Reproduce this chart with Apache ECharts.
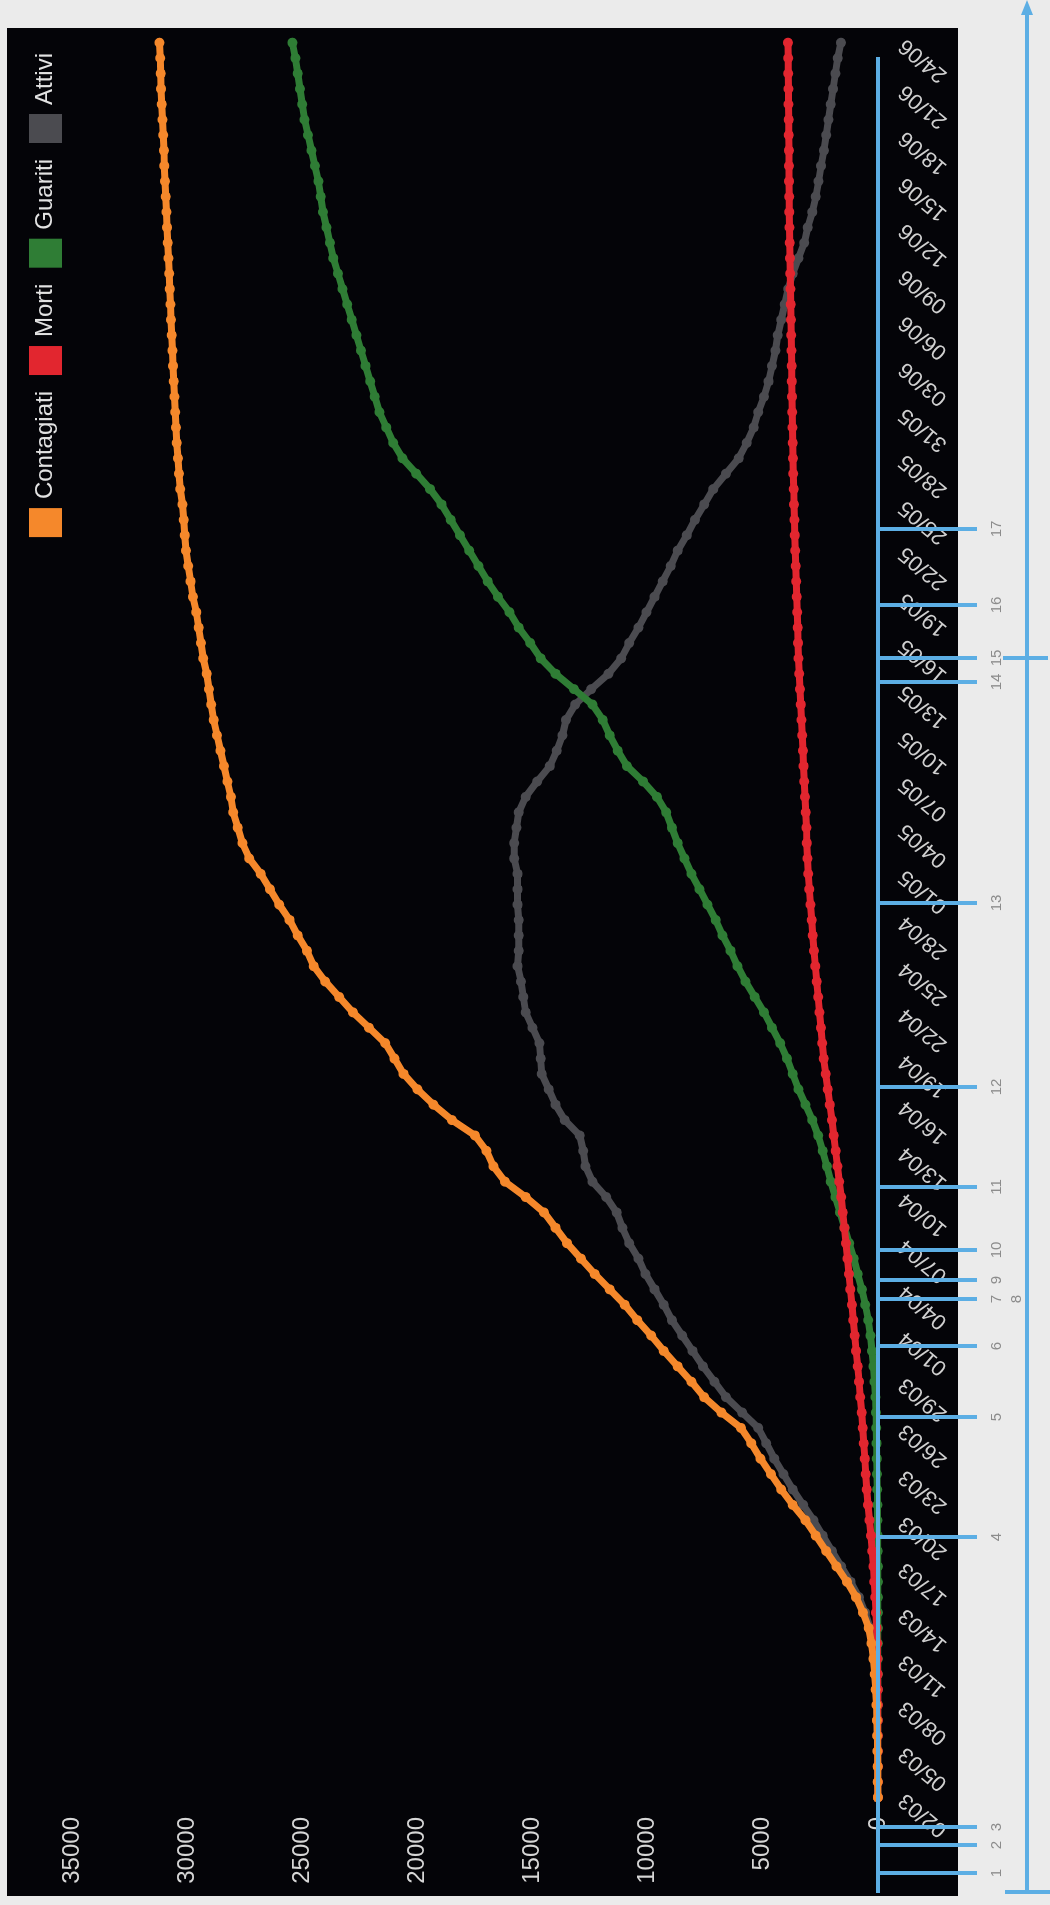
<!DOCTYPE html>
<html>
<head>
<meta charset="utf-8">
<script src="https://cdn.jsdelivr.net/npm/echarts@6/dist/echarts.min.js"></script>
<style>
html,body{margin:0;padding:0;background:#ebebeb;width:1050px;height:1905px;overflow:hidden;}
#chart{position:absolute;left:0;top:0;width:1905px;height:1050px;transform-origin:0 0;transform:translate(0,1905px) rotate(-90deg);}
</style>
</head>
<body>
<div id="chart"></div>
<script>
// ---- data ----
const monthSpans = [['03', 2, 31], ['04', 1, 30], ['05', 1, 31], ['06', 1, 24]];
const dates = [];
monthSpans.forEach(function (m) {
  for (let d = m[1]; d <= m[2]; d++) dates.push((d < 10 ? '0' : '') + d + '/' + m[0]);
});

const seriesNames = ['Contagiati', 'Morti', 'Guariti', 'Attivi'];

const contagiati = [
  5, 10, 15, 20, 30, 45, 60, 100, 140, 200,
  280, 400, 650, 950, 1350, 1800, 2250, 2700, 3150, 3700,
  4200, 4650, 5100, 5500, 5950, 6800, 7550, 8100, 8700, 9300,
  9850, 10450, 11000, 11650, 12300, 12900, 13500, 14000, 14500, 15300,
  16200, 16700, 17000, 17500, 18500, 19300, 20000, 20600, 21000, 21400,
  22100, 22800, 23400, 24000, 24500, 24800, 25200, 25550, 26000, 26400,
  26800, 27300, 27600, 27800, 28000, 28100, 28250, 28400, 28550, 28700,
  28850, 28950, 29050, 29150, 29300, 29400, 29500, 29600, 29750, 29850,
  29950, 30050, 30100, 30150, 30200, 30300, 30350, 30400, 30450, 30480,
  30520, 30550, 30580, 30610, 30640, 30670, 30700, 30720, 30750, 30780,
  30810, 30840, 30870, 30900, 30930, 30960, 30990, 31010, 31040, 31070,
  31100, 31130, 31150, 31170, 31200
];

const morti = [
  0, 0, 0, 0, 0, 0, 2, 5, 10, 20,
  35, 60, 90, 120, 160, 200, 250, 300, 370, 430,
  490, 530, 570, 620, 660, 710, 770, 820, 880, 950,
  1010, 1070, 1130, 1200, 1260, 1320, 1390, 1460, 1530, 1600,
  1680, 1760, 1840, 1920, 2000, 2090, 2180, 2270, 2360, 2420,
  2480, 2540, 2600, 2660, 2720, 2780, 2830, 2880, 2930, 2980,
  3030, 3060, 3090, 3110, 3140, 3170, 3200, 3230, 3260, 3290,
  3320, 3350, 3390, 3420, 3450, 3470, 3490, 3510, 3530, 3550,
  3570, 3590, 3610, 3630, 3650, 3660, 3680, 3690, 3700, 3710,
  3720, 3730, 3740, 3750, 3760, 3770, 3780, 3790, 3800, 3810,
  3820, 3830, 3840, 3850, 3855, 3860, 3865, 3870, 3875, 3880,
  3885, 3890, 3895, 3900, 3910
];

const guariti = [
  0, 0, 0, 0, 0, 0, 0, 0, 0, 0,
  0, 0, 0, 0, 0, 5, 10, 15, 20, 25,
  30, 40, 50, 60, 75, 90, 110, 150, 200, 260,
  330, 420, 550, 700, 880, 1050, 1250, 1450, 1650, 1850,
  2050, 2220, 2400, 2600, 2850, 3150, 3450, 3700, 3950, 4250,
  4600, 4950, 5350, 5750, 6100, 6400, 6750, 7050, 7400, 7750,
  8100, 8400, 8700, 8950, 9200, 9600, 10200, 10900, 11300, 11650,
  11950, 12400, 13200, 14000, 14650, 15100, 15600, 16000, 16500, 16950,
  17350, 17750, 18150, 18550, 18950, 19450, 20050, 20650, 21050, 21350,
  21650, 21850, 22050, 22250, 22450, 22650, 22850, 23050, 23250, 23450,
  23650, 23800, 23950, 24100, 24200, 24300, 24450, 24600, 24750, 24900,
  25000, 25100, 25200, 25300, 25430
];

const attivi = [
  5, 10, 15, 20, 30, 45, 58, 95, 130, 180,
  245, 340, 560, 830, 1190, 1600, 2000, 2400, 2800, 3250,
  3700, 4100, 4500, 4850, 5200, 5900, 6600, 7100, 7600, 8050,
  8500, 8950, 9300, 9700, 10100, 10400, 10800, 11100, 11350, 11800,
  12400, 12700, 12800, 12950, 13600, 14000, 14300, 14600, 14650, 14700,
  15000, 15300, 15400, 15500, 15650, 15600, 15600, 15600, 15650, 15650,
  15650, 15800, 15800, 15700, 15600, 15300, 14800, 14250, 13950, 13700,
  13550, 13150, 12450, 11700, 11150, 10800, 10400, 10050, 9700, 9350,
  9000, 8700, 8300, 7950, 7550, 7150, 6600, 6050, 5700, 5400,
  5200, 4950, 4750, 4600, 4450, 4350, 4200, 4050, 3900, 3700,
  3450, 3200, 3050, 2850, 2700, 2580, 2470, 2350, 2250, 2150,
  2050, 1950, 1850, 1750, 1610
];

const valueMin = 0, valueMax = 35000, valueStep = 5000;

// annotation overlay (blue markers with their numbers)
const markerLabels = ['1', '2', '3', '4', '5', '6', '7', '9', '10', '11', '12', '13', '14', '15', '16', '17'];
const markerX = [32, 60, 78, 368, 488, 559, 606, 625, 655, 718, 818, 1002, 1223, 1247, 1300, 1376];

// ---- styling ----
const colors = ['#f5882b', '#e2262f', '#2f7d35', '#4b4b50'];
const seriesZ = [5, 4, 3, 2];
const blue = '#5caee4';
const FONT = '"Liberation Sans", Arial, sans-serif';

const chart = echarts.init(document.getElementById('chart'), null, { renderer: 'canvas' });

const graphics = [];
graphics.push({ type: 'rect', z: -10, silent: true, shape: { x: 9, y: 7, width: 1868, height: 951 }, style: { fill: '#040408' } });
graphics.push({ type: 'line', z: 100, silent: true, shape: { x1: 12, y1: 878, x2: 1848, y2: 878 }, style: { stroke: blue, lineWidth: 4 } });
markerX.forEach(function (x, i) {
  graphics.push({ type: 'line', z: 100, silent: true, shape: { x1: x, y1: 878, x2: x, y2: 977 }, style: { stroke: blue, lineWidth: 4 } });
  graphics.push({ type: 'text', z: 100, silent: true, x: x, y: 997,
    style: { text: markerLabels[i], fill: '#8c8c8c', font: '15px ' + FONT, textAlign: 'center', textVerticalAlign: 'middle', align: 'center', verticalAlign: 'middle' } });
});
graphics.push({ type: 'text', z: 100, silent: true, x: 606, y: 1017,
  style: { text: '8', fill: '#8c8c8c', font: '15px ' + FONT, textAlign: 'center', textVerticalAlign: 'middle', align: 'center', verticalAlign: 'middle' } });
// outer frame line with arrow and ticks
graphics.push({ type: 'line', z: 100, silent: true, shape: { x1: 13, y1: 1027, x2: 1896, y2: 1027 }, style: { stroke: blue, lineWidth: 4 } });
graphics.push({ type: 'polygon', z: 100, silent: true, shape: { points: [[1905, 1027], [1890, 1021], [1890, 1033]] }, style: { fill: blue } });
graphics.push({ type: 'line', z: 100, silent: true, shape: { x1: 13, y1: 1005, x2: 13, y2: 1050 }, style: { stroke: blue, lineWidth: 4 } });
graphics.push({ type: 'line', z: 100, silent: true, shape: { x1: 1247, y1: 1003, x2: 1247, y2: 1048 }, style: { stroke: blue, lineWidth: 4 } });

const seriesData = [contagiati, morti, guariti, attivi];

chart.setOption({
  backgroundColor: '#ebebeb',
  animation: false,
  color: colors,
  textStyle: { fontFamily: FONT },
  legend: {
    data: seriesNames,
    top: 24,
    right: 48,
    icon: 'rect',
    itemWidth: 29,
    itemHeight: 33,
    itemGap: 16,
    textStyle: { color: '#e2e2e2', fontSize: 24, fontFamily: FONT, padding: [0, 0, 0, 4] }
  },
  grid: { left: 100, right: 35, top: 72, bottom: 172, containLabel: false },
  xAxis: {
    type: 'category',
    data: dates,
    boundaryGap: true,
    axisLine: { show: false },
    axisTick: { show: false },
    splitLine: { show: false },
    axisLabel: { interval: 2, rotate: 50, margin: 24, color: '#d0d0d0', fontSize: 22, fontFamily: FONT }
  },
  yAxis: {
    type: 'value',
    min: valueMin,
    max: valueMax,
    interval: valueStep,
    axisLine: { show: false },
    axisTick: { show: false },
    splitLine: { show: false },
    axisLabel: { margin: 12, color: '#d6d6d6', fontSize: 24, fontFamily: FONT, formatter: function (v) { return String(v); } }
  },
  series: seriesNames.map(function (name, i) {
    return {
      name: name,
      type: 'line',
      z: seriesZ[i],
      data: seriesData[i],
      symbol: 'circle',
      symbolSize: 10,
      showSymbol: true,
      showAllSymbol: true,
      lineStyle: { width: 7, color: colors[i] },
      itemStyle: { color: colors[i] }
    };
  }),
  graphic: graphics
});
</script>
</body>
</html>
